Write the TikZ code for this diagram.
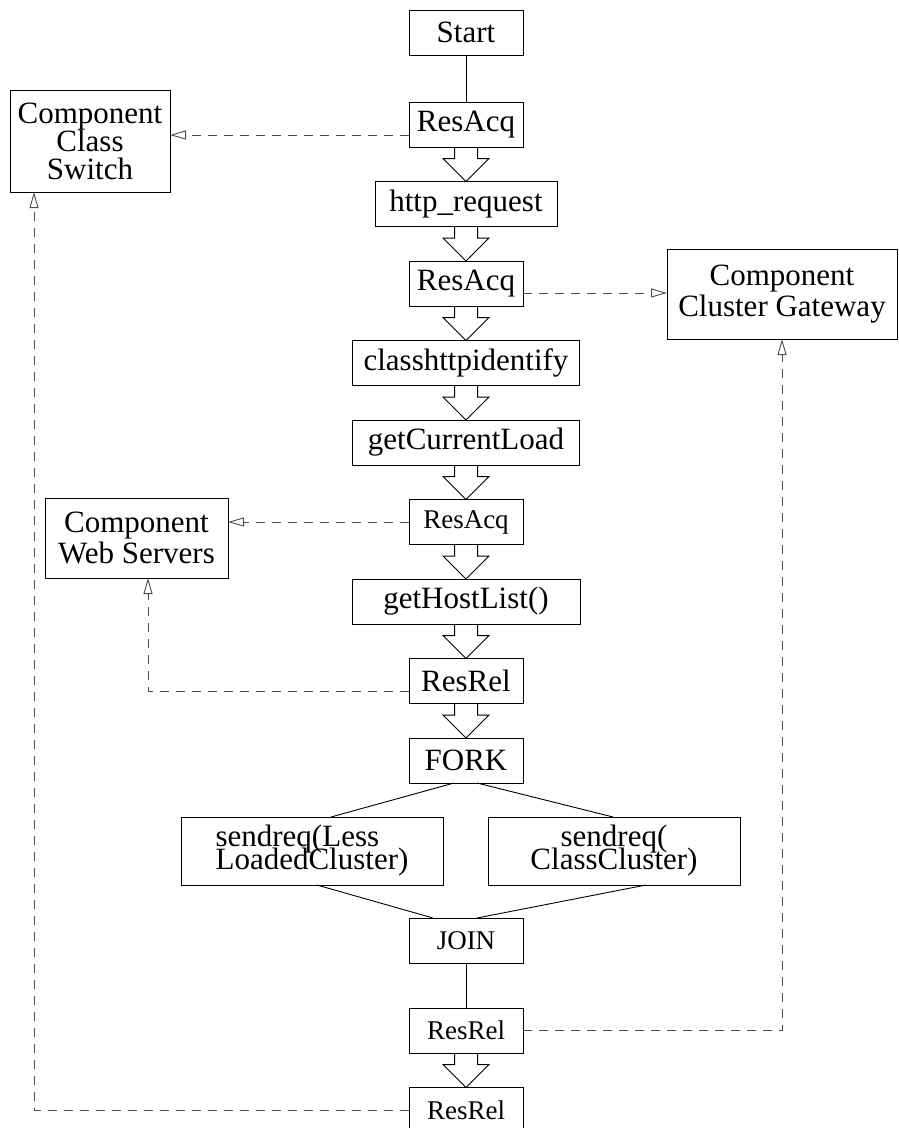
\documentclass[tikz,border=0pt]{standalone}
\usepackage{fontspec}
\setmainfont{Liberation Serif}
\usetikzlibrary{positioning,arrows.meta}

% hollow block arrow between two boxes of the main column
\newcommand{\flowarrow}[2]{%
  \draw[hollow] ([xshift=-11.5pt]#1.south) -- ([xshift=-11.5pt,yshift=23pt]#2.north)
    -- ([xshift=-23pt,yshift=23pt]#2.north) -- (#2.north)
    -- ([xshift=23pt,yshift=23pt]#2.north) -- ([xshift=11.5pt,yshift=23pt]#2.north)
    -- ([xshift=11.5pt]#1.south);}
% tight lines that may overlap
\newcommand{\tightlines}[1]{\fontsize{31}{#1}\selectfont\lineskiplimit=-60pt\lineskip=0pt}

\begin{document}
\begin{tikzpicture}[
    x=1pt, y=-1pt,
    node distance=34.5pt,
    every node/.style={font=\fontsize{31}{31}\selectfont},
    box/.style={rectangle, draw, line width=1pt, inner sep=0pt, outer sep=0pt, minimum width=114pt, minimum height=45pt, align=center},
    smallbox/.style={box, font=\fontsize{27}{27}\selectfont},
    widebox/.style={box, minimum width=227pt},
    forkbox/.style={box, minimum height=68pt, font=\tightlines{23}},
    comp/.style={box, font=\tightlines{31}},
    dep/.style={dashed, dash pattern=on 9pt off 7pt, draw=black!70, line width=0.9pt, -{Triangle[open,length=16pt,width=9pt]}},
    hollow/.style={draw, line width=1pt, line join=miter},
    link/.style={draw, line width=0.9pt}
]
\useasboundingbox (0,0) rectangle (898,1128);

%% ---- Main column ----
\node[box] (start) at (466,32.5) {Start};
\node[box, below=47pt of start] (acq1) {ResAcq};
\node[box, below=of acq1, minimum width=182pt] (http) {http\_request};
\node[box, below=of http] (acq2) {ResAcq};
\node[widebox, below=of acq2] (classify) {classhttpidentify};
\node[widebox, below=of classify] (load) {getCurrentLoad};
\node[smallbox, below=of load] (acq3) {ResAcq};
\node[widebox, below=of acq3, minimum width=228pt] (hosts) {getHostList()};
\node[box, below=of hosts] (rel1) {ResRel};
\node[box, below=of rel1] (fork) {FORK};

%% ---- Parallel branches ----
\node[forkbox, minimum width=262pt, align=left] (lessreq) at (312,851) {sendreq(Less\\LoadedCluster)};
\node[forkbox, minimum width=252pt] (classreq) at (614,851) {sendreq(\\ClassCluster)};

\node[smallbox, below=135pt of fork] (join) {JOIN};
\node[smallbox, below=45pt of join] (rel2) {ResRel};
\node[smallbox, below=of rel2] (rel3) {ResRel};

%% ---- Components ----
\node[comp, minimum width=160pt, minimum height=102pt, font=\tightlines{28}] (switch) at (90,141) {Component\\Class\\Switch};
\node[comp, minimum width=230pt, minimum height=90pt] (gateway) at (782,294) {Component\\Cluster Gateway};
\node[comp, minimum width=183pt, minimum height=80pt] (servers) at (136.5,538) {Component\\Web Servers};

%% ---- Control flow ----
\draw[link] (start) -- (acq1);
\flowarrow{acq1}{http}
\flowarrow{http}{acq2}
\flowarrow{acq2}{classify}
\flowarrow{classify}{load}
\flowarrow{load}{acq3}
\flowarrow{acq3}{hosts}
\flowarrow{hosts}{rel1}
\flowarrow{rel1}{fork}
\draw[link] ([xshift=-12pt]fork.south) -- ([xshift=19pt]lessreq.north);
\draw[link] ([xshift=11pt]fork.south) -- ([xshift=-1pt]classreq.north);
\draw[link] ([xshift=5pt]lessreq.south) -- ([xshift=-33pt]join.north);
\draw[link] ([xshift=32pt]classreq.south) -- ([xshift=11pt]join.north);
\draw[link] (join) -- (rel2);
\flowarrow{rel2}{rel3}

%% ---- Resource acquire / release ----
\draw[dep] ([yshift=-10.5pt]acq1.west) -- ([yshift=-10.5pt]acq1.west -| switch.east);
\draw[dep] ([yshift=-9.5pt]acq2.east) -- ([yshift=-9.5pt]acq2.east -| gateway.west);
\draw[dep] (acq3.west) -- (acq3.west -| servers.east);
\draw[dep] ([yshift=-10pt]rel1.west) -| ([xshift=11.5pt]servers.south);
\draw[dep] (rel2.east) -| (gateway.south);
\draw[dep] (rel3.west) -| ([xshift=-56pt]switch.south);

\end{tikzpicture}
\end{document}
